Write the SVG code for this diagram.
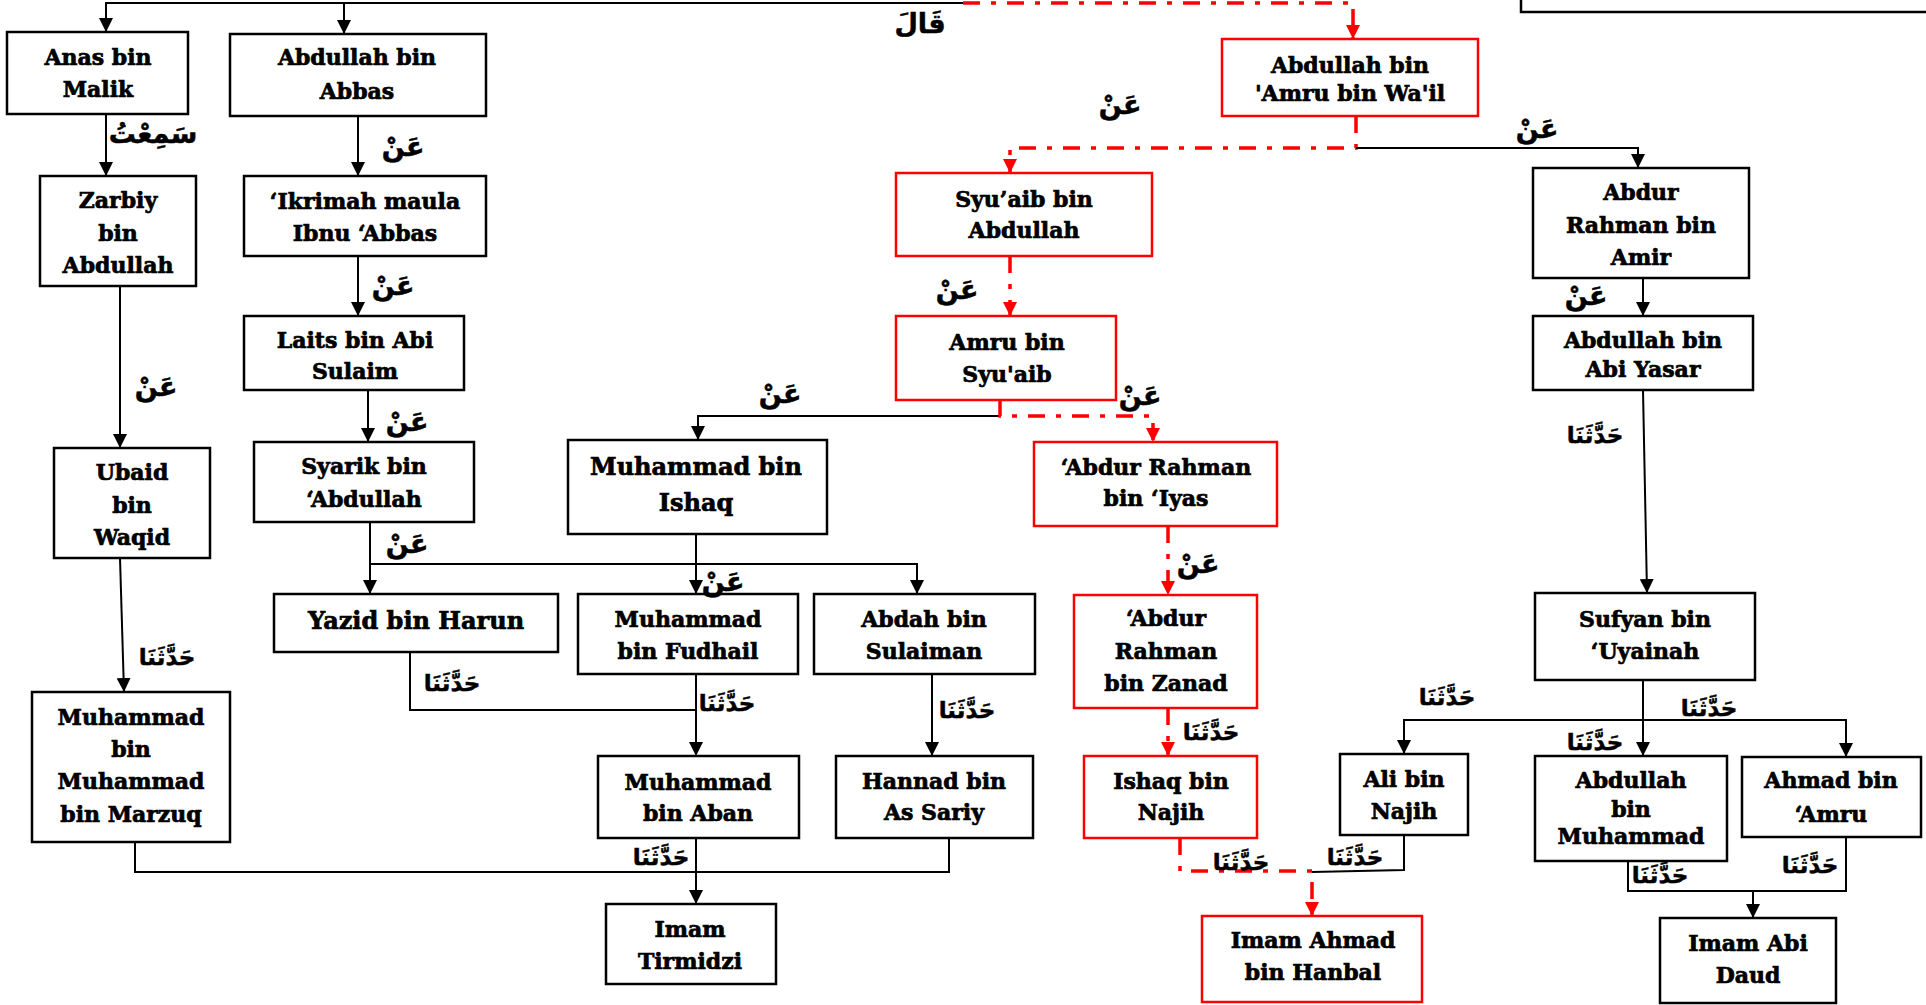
<svg xmlns="http://www.w3.org/2000/svg" width="1926" height="1005" viewBox="0 0 1926 1005">
<defs>
<style>
.b{fill:none;stroke:#000;stroke-width:2.5}
.r{fill:none;stroke:#ff0000;stroke-width:2.5}
.t{font-family:"DejaVu Serif","Liberation Serif",serif;font-weight:bold;font-size:22px;text-anchor:middle;fill:#000;stroke:#000;stroke-width:0.7}
.t24{font-size:24px}
.a{font-family:"DejaVu Sans",sans-serif;font-weight:bold;font-size:27px;text-anchor:middle;fill:#000;stroke:#000;stroke-width:0.5}
.h{font-size:23px}
.c{fill:none;stroke:#000;stroke-width:2}
.cr{fill:none;stroke:#ff0000;stroke-width:3.5;stroke-dasharray:17 11 5 11}
</style>
<marker id="ab" markerUnits="userSpaceOnUse" markerWidth="14" markerHeight="14" refX="14" refY="7" orient="auto">
<path d="M0,0 L14,7 L0,14 z" fill="#000"/>
</marker>
<marker id="ar" markerUnits="userSpaceOnUse" markerWidth="14" markerHeight="14" refX="14" refY="7" orient="auto">
<path d="M0,0 L14,7 L0,14 z" fill="#ff0000"/>
</marker>
</defs>
<rect width="1926" height="1005" fill="#fff"/>

<g id="connectors">
<path class="c" d="M963,3 H106 V32" marker-end="url(#ab)"/>
<path class="c" d="M344,3 V34" marker-end="url(#ab)"/>
<path class="cr" d="M963,3 H1353 V39" marker-end="url(#ar)"/>
<path class="c" d="M106,114 V176" marker-end="url(#ab)"/>
<path class="c" d="M358,116 V176" marker-end="url(#ab)"/>
<path class="c" d="M120,286 V448" marker-end="url(#ab)"/>
<path class="c" d="M358,256 V316" marker-end="url(#ab)"/>
<path class="c" d="M368,390 V442" marker-end="url(#ab)"/>
<path class="c" d="M120,558 L124,692" marker-end="url(#ab)"/>
<path class="c" d="M370,522 V594" marker-end="url(#ab)"/>
<path class="c" d="M370,564 H917 V594" marker-end="url(#ab)"/>
<path class="c" d="M696,534 V594" marker-end="url(#ab)"/>
<path class="c" d="M410,652 V710 H696"/>
<path class="c" d="M696,674 V756" marker-end="url(#ab)"/>
<path class="c" d="M932,674 V756" marker-end="url(#ab)"/>
<path class="c" d="M135,842 V872 H949 V838"/>
<path class="c" d="M696,838 V904" marker-end="url(#ab)"/>
<path class="c" d="M1000,416 H698 V440" marker-end="url(#ab)"/>
<path class="cr" d="M1000,400 V416 H1153 V442" marker-end="url(#ar)"/>
<path class="cr" d="M1356,116 V148 H1010 V173" marker-end="url(#ar)"/>
<path class="c" d="M1356,148 H1638 V168" marker-end="url(#ab)"/>
<path class="cr" d="M1010,256 V316" marker-end="url(#ar)"/>
<path class="cr" d="M1168,526 V595" marker-end="url(#ar)"/>
<path class="cr" d="M1168,708 V756" marker-end="url(#ar)"/>
<path class="cr" d="M1180,838 V871 H1312 V916" marker-end="url(#ar)"/>
<path class="c" d="M1404,835 V870 L1312,872"/>
<path class="c" d="M1643,278 V316" marker-end="url(#ab)"/>
<path class="c" d="M1643,390 L1647,593" marker-end="url(#ab)"/>
<path class="c" d="M1643,680 V756" marker-end="url(#ab)"/>
<path class="c" d="M1404,754 V720 H1846 V757" marker-end="url(#ab)"/>
<path class="c" d="M1404,720 V754" marker-end="url(#ab)"/>
<path class="c" d="M1628,861 V891 H1846 V837"/>
<path class="c" d="M1753,891 V918" marker-end="url(#ab)"/>
</g>

<g id="labels">
<text class="a" x="920" y="33">قَالَ</text>
<text class="a" x="153" y="143">سَمِعْتُ</text>
<text class="a" x="403" y="156">عَنْ</text>
<text class="a" x="393" y="295">عَنْ</text>
<text class="a" x="156" y="396">عَنْ</text>
<text class="a" x="407" y="431">عَنْ</text>
<text class="a" x="407" y="553">عَنْ</text>
<text class="a h" x="167" y="665">حَدَّثَنَا</text>
<text class="a h" x="452" y="691">حَدَّثَنَا</text>
<text class="a" x="780" y="403">عَنْ</text>
<text class="a" x="723" y="591">عَنْ</text>
<text class="a h" x="727" y="711">حَدَّثَنَا</text>
<text class="a h" x="967" y="718">حَدَّثَنَا</text>
<text class="a h" x="661" y="865">حَدَّثَنَا</text>
<text class="a" x="1120" y="114">عَنْ</text>
<text class="a" x="1537" y="138">عَنْ</text>
<text class="a" x="957" y="299">عَنْ</text>
<text class="a" x="1140" y="405">عَنْ</text>
<text class="a" x="1198" y="573">عَنْ</text>
<text class="a" x="1586" y="305">عَنْ</text>
<text class="a h" x="1595" y="443">حَدَّثَنَا</text>
<text class="a h" x="1211" y="740">حَدَّثَنَا</text>
<text class="a h" x="1241" y="870">حَدَّثَنَا</text>
<text class="a h" x="1355" y="865">حَدَّثَنَا</text>
<text class="a h" x="1447" y="705">حَدَّثَنَا</text>
<text class="a h" x="1709" y="716">حَدَّثَنَا</text>
<text class="a h" x="1595" y="750">حَدَّثَنَا</text>
<text class="a h" x="1660" y="883">حَدَّثَنَا</text>
<text class="a h" x="1810" y="873">حَدَّثَنَا</text>
</g>

<g id="n1"><rect class="b" x="7" y="32" width="181" height="82"/><text class="t" x="98" y="65">Anas bin</text><text class="t" x="98" y="97">Malik</text></g>
<g id="n2"><rect class="b" x="230" y="34" width="256" height="82"/><text class="t" x="357" y="65">Abdullah bin</text><text class="t" x="357" y="99">Abbas</text></g>
<g id="n3"><rect class="b" x="40" y="176" width="156" height="110"/><text class="t" x="118" y="208">Zarbiy</text><text class="t" x="118" y="241">bin</text><text class="t" x="118" y="273">Abdullah</text></g>
<g id="n4"><rect class="b" x="244" y="176" width="242" height="80"/><text class="t" x="365" y="209">‘Ikrimah maula</text><text class="t" x="365" y="241">Ibnu ‘Abbas</text></g>
<g id="n5"><rect class="b" x="244" y="316" width="220" height="74"/><text class="t" x="355" y="348">Laits bin Abi</text><text class="t" x="355" y="379">Sulaim</text></g>
<g id="n6"><rect class="b" x="254" y="442" width="220" height="80"/><text class="t" x="364" y="474">Syarik bin</text><text class="t" x="364" y="507">‘Abdullah</text></g>
<g id="n7"><rect class="b" x="54" y="448" width="156" height="110"/><text class="t" x="132" y="480">Ubaid</text><text class="t" x="132" y="513">bin</text><text class="t" x="132" y="545">Waqid</text></g>
<g id="n8"><rect class="b" x="32" y="692" width="198" height="150"/><text class="t" x="131" y="725">Muhammad</text><text class="t" x="131" y="757">bin</text><text class="t" x="131" y="789">Muhammad</text><text class="t" x="131" y="822">bin Marzuq</text></g>
<g id="n9"><rect class="b" x="274" y="594" width="284" height="58"/><text class="t t24" x="416" y="629">Yazid bin Harun</text></g>
<g id="n10"><rect class="b" x="568" y="440" width="259" height="94"/><text class="t t24" x="696" y="475">Muhammad bin</text><text class="t t24" x="696" y="511">Ishaq</text></g>
<g id="n11"><rect class="b" x="578" y="594" width="220" height="80"/><text class="t" x="688" y="627">Muhammad</text><text class="t" x="688" y="659">bin Fudhail</text></g>
<g id="n12"><rect class="b" x="814" y="594" width="221" height="80"/><text class="t" x="924" y="627">Abdah bin</text><text class="t" x="924" y="659">Sulaiman</text></g>
<g id="n13"><rect class="b" x="598" y="756" width="201" height="82"/><text class="t" x="698" y="790">Muhammad</text><text class="t" x="698" y="821">bin Aban</text></g>
<g id="n14"><rect class="b" x="836" y="756" width="197" height="82"/><text class="t" x="934" y="789">Hannad bin</text><text class="t" x="934" y="820">As Sariy</text></g>
<g id="n15"><rect class="b" x="606" y="904" width="170" height="80"/><text class="t" x="690" y="937">Imam</text><text class="t" x="690" y="969">Tirmidzi</text></g>
<g id="n16"><rect class="r" x="1222" y="39" width="256" height="77"/><text class="t" x="1350" y="73">Abdullah bin</text><text class="t" x="1350" y="101">'Amru bin Wa'il</text></g>
<g id="n17"><rect class="r" x="896" y="173" width="256" height="83"/><text class="t" x="1024" y="207">Syu’aib bin</text><text class="t" x="1024" y="238">Abdullah</text></g>
<g id="n18"><rect class="r" x="896" y="316" width="220" height="84"/><text class="t" x="1007" y="350">Amru bin</text><text class="t" x="1007" y="382">Syu'aib</text></g>
<g id="n19"><rect class="r" x="1034" y="442" width="243" height="84"/><text class="t" x="1156" y="475">‘Abdur Rahman</text><text class="t" x="1156" y="506">bin ‘Iyas</text></g>
<g id="n20"><rect class="r" x="1074" y="595" width="183" height="113"/><text class="t" x="1166" y="626">‘Abdur</text><text class="t" x="1166" y="659">Rahman</text><text class="t" x="1166" y="691">bin Zanad</text></g>
<g id="n21"><rect class="r" x="1084" y="756" width="173" height="82"/><text class="t" x="1171" y="789">Ishaq bin</text><text class="t" x="1171" y="820">Najih</text></g>
<g id="n22"><rect class="r" x="1202" y="916" width="220" height="86"/><text class="t" x="1313" y="948">Imam Ahmad</text><text class="t" x="1313" y="980">bin Hanbal</text></g>
<g id="n23"><rect class="b" x="1533" y="168" width="216" height="110"/><text class="t" x="1641" y="200">Abdur</text><text class="t" x="1641" y="233">Rahman bin</text><text class="t" x="1641" y="265">Amir</text></g>
<g id="n24"><rect class="b" x="1533" y="316" width="220" height="74"/><text class="t" x="1643" y="348">Abdullah bin</text><text class="t" x="1643" y="377">Abi Yasar</text></g>
<g id="n25"><rect class="b" x="1535" y="593" width="220" height="87"/><text class="t" x="1645" y="627">Sufyan bin</text><text class="t" x="1645" y="659">‘Uyainah</text></g>
<g id="n26"><rect class="b" x="1340" y="754" width="128" height="81"/><text class="t" x="1404" y="787">Ali bin</text><text class="t" x="1404" y="819">Najih</text></g>
<g id="n27"><rect class="b" x="1535" y="756" width="192" height="105"/><text class="t" x="1631" y="788">Abdullah</text><text class="t" x="1631" y="817">bin</text><text class="t" x="1631" y="844">Muhammad</text></g>
<g id="n28"><rect class="b" x="1742" y="757" width="179" height="80"/><text class="t" x="1831" y="788">Ahmad bin</text><text class="t" x="1831" y="822">‘Amru</text></g>
<g id="n29"><rect class="b" x="1660" y="918" width="176" height="85"/><text class="t" x="1748" y="951">Imam Abi</text><text class="t" x="1748" y="983">Daud</text></g>
<g id="n30"><rect class="b" x="1521" y="-20" width="420" height="32"/></g>
</svg>
